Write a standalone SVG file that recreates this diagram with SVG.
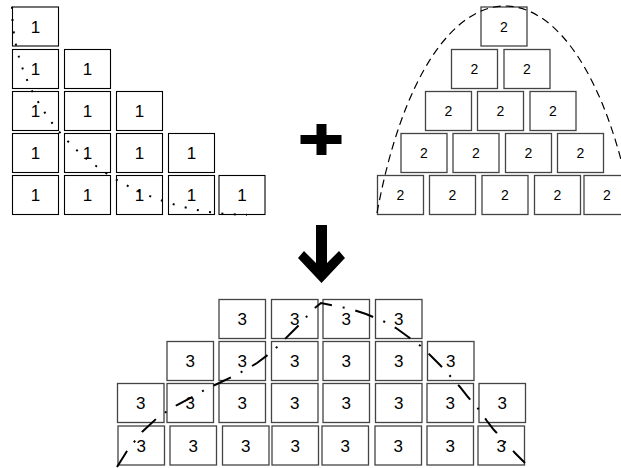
<svg xmlns="http://www.w3.org/2000/svg" width="621" height="468" viewBox="0 0 621 468">
<style>
.bl{fill:#fff;stroke:#000;stroke-width:1.1}
.bg{fill:#fff;stroke:#444;stroke-width:1.3}
.t1{font-family:"Liberation Sans",Arial,sans-serif;font-size:17px;text-anchor:middle;fill:#000}
.t2{font-family:"Liberation Sans",Arial,sans-serif;font-size:14px;text-anchor:middle;fill:#000}
.t3{font-family:"Liberation Sans",Arial,sans-serif;font-size:17px;text-anchor:middle;fill:#000}
</style>
<rect width="621" height="468" fill="#fff"/>
<g id="left">
<g id="L1a"><rect class="bl" x="12.5" y="7" width="46" height="39"/><text class="t1" x="35.5" y="32.5">1</text></g>
<g id="L2a"><rect class="bl" x="12.5" y="49.5" width="46" height="39"/><text class="t1" x="35.5" y="75">1</text></g>
<g id="L2b"><rect class="bl" x="64.5" y="49.5" width="46" height="39"/><text class="t1" x="87.5" y="75">1</text></g>
<g id="L3a"><rect class="bl" x="12.5" y="91.5" width="46" height="39"/><text class="t1" x="35.5" y="117">1</text></g>
<g id="L3b"><rect class="bl" x="64.5" y="91.5" width="46" height="39"/><text class="t1" x="87.5" y="117">1</text></g>
<g id="L3c"><rect class="bl" x="116.5" y="91.5" width="46" height="39"/><text class="t1" x="139.5" y="117">1</text></g>
<g id="L4a"><rect class="bl" x="12.5" y="133.5" width="46" height="39"/><text class="t1" x="35.5" y="159">1</text></g>
<g id="L4b"><rect class="bl" x="64.5" y="133.5" width="46" height="39"/><text class="t1" x="87.5" y="159">1</text></g>
<g id="L4c"><rect class="bl" x="116.5" y="133.5" width="46" height="39"/><text class="t1" x="139.5" y="159">1</text></g>
<g id="L4d"><rect class="bl" x="168.5" y="133.5" width="46" height="39"/><text class="t1" x="191.5" y="159">1</text></g>
<g id="L5a"><rect class="bl" x="12.5" y="175.5" width="46" height="39"/><text class="t1" x="35.5" y="201">1</text></g>
<g id="L5b"><rect class="bl" x="64.5" y="175.5" width="46" height="39"/><text class="t1" x="87.5" y="201">1</text></g>
<g id="L5c"><rect class="bl" x="116.5" y="175.5" width="46" height="39"/><text class="t1" x="139.5" y="201">1</text></g>
<g id="L5d"><rect class="bl" x="168.5" y="175.5" width="46" height="39"/><text class="t1" x="191.5" y="201">1</text></g>
<g id="L5e"><rect class="bl" x="219" y="175.5" width="46" height="39"/><text class="t1" x="242" y="201">1</text></g>
</g>
<g id="right">
<g id="R1a"><rect class="bg" x="481" y="7" width="46" height="39"/><text class="t2" x="504" y="31.5">2</text></g>
<g id="R2a"><rect class="bg" x="451.5" y="49.5" width="46" height="39"/><text class="t2" x="474.5" y="74">2</text></g>
<g id="R2b"><rect class="bg" x="504" y="49.5" width="46" height="39"/><text class="t2" x="527" y="74">2</text></g>
<g id="R3a"><rect class="bg" x="425.5" y="91.5" width="46" height="39"/><text class="t2" x="448.5" y="116">2</text></g>
<g id="R3b"><rect class="bg" x="477.5" y="91.5" width="46" height="39"/><text class="t2" x="500.5" y="116">2</text></g>
<g id="R3c"><rect class="bg" x="530" y="91.5" width="46" height="39"/><text class="t2" x="553" y="116">2</text></g>
<g id="R4a"><rect class="bg" x="401" y="133.5" width="46" height="39"/><text class="t2" x="424" y="158">2</text></g>
<g id="R4b"><rect class="bg" x="453" y="133.5" width="46" height="39"/><text class="t2" x="476" y="158">2</text></g>
<g id="R4c"><rect class="bg" x="505.5" y="133.5" width="46" height="39"/><text class="t2" x="528.5" y="158">2</text></g>
<g id="R4d"><rect class="bg" x="557.5" y="133.5" width="46" height="39"/><text class="t2" x="580.5" y="158">2</text></g>
<g id="R5a"><rect class="bg" x="377.5" y="175.5" width="46" height="39"/><text class="t2" x="400.5" y="200">2</text></g>
<g id="R5b"><rect class="bg" x="429.5" y="175.5" width="46" height="39"/><text class="t2" x="452.5" y="200">2</text></g>
<g id="R5c"><rect class="bg" x="482" y="175.5" width="46" height="39"/><text class="t2" x="505" y="200">2</text></g>
<g id="R5d"><rect class="bg" x="534.5" y="175.5" width="46" height="39"/><text class="t2" x="557.5" y="200">2</text></g>
<g id="R5e"><rect class="bg" x="584" y="175.5" width="46" height="39"/><text class="t2" x="607" y="200">2</text></g>
</g>
<g id="plus"><rect x="300.5" y="135" width="41" height="9" fill="#000"/><rect x="316.5" y="124" width="10" height="31" fill="#000"/></g>
<g id="arrow"><polygon points="316,225 327,225 327,263 339,251 345,258 321.5,283 298,258 304,251 316,263" fill="#000"/></g>
<g id="bottom">
<g id="B1a"><rect class="bg" x="219" y="299.5" width="46.5" height="39"/><text class="t3" x="242.2" y="325">3</text></g>
<g id="B1b"><rect class="bg" x="271.5" y="299.5" width="46.5" height="39"/><text class="t3" x="294.7" y="325">3</text></g>
<g id="B1c"><rect class="bg" x="323" y="299.5" width="46.5" height="39"/><text class="t3" x="346.2" y="325">3</text></g>
<g id="B1d"><rect class="bg" x="375.5" y="299.5" width="46.5" height="39"/><text class="t3" x="398.7" y="325">3</text></g>
<g id="B2a"><rect class="bg" x="167" y="341.5" width="46.5" height="39"/><text class="t3" x="190.2" y="367">3</text></g>
<g id="B2b"><rect class="bg" x="219" y="341.5" width="46.5" height="39"/><text class="t3" x="242.2" y="367">3</text></g>
<g id="B2c"><rect class="bg" x="271.5" y="341.5" width="46.5" height="39"/><text class="t3" x="294.7" y="367">3</text></g>
<g id="B2d"><rect class="bg" x="323" y="341.5" width="46.5" height="39"/><text class="t3" x="346.2" y="367">3</text></g>
<g id="B2e"><rect class="bg" x="375.5" y="341.5" width="46.5" height="39"/><text class="t3" x="398.7" y="367">3</text></g>
<g id="B2f"><rect class="bg" x="427.5" y="341.5" width="46.5" height="39"/><text class="t3" x="450.7" y="367">3</text></g>
<g id="B3a"><rect class="bg" x="117.5" y="383.5" width="46.5" height="39"/><text class="t3" x="140.7" y="409">3</text></g>
<g id="B3b"><rect class="bg" x="167" y="383.5" width="46.5" height="39"/><text class="t3" x="190.2" y="409">3</text></g>
<g id="B3c"><rect class="bg" x="219" y="383.5" width="46.5" height="39"/><text class="t3" x="242.2" y="409">3</text></g>
<g id="B3d"><rect class="bg" x="271.5" y="383.5" width="46.5" height="39"/><text class="t3" x="294.7" y="409">3</text></g>
<g id="B3e"><rect class="bg" x="323" y="383.5" width="46.5" height="39"/><text class="t3" x="346.2" y="409">3</text></g>
<g id="B3f"><rect class="bg" x="375.5" y="383.5" width="46.5" height="39"/><text class="t3" x="398.7" y="409">3</text></g>
<g id="B3g"><rect class="bg" x="427" y="383.5" width="46.5" height="39"/><text class="t3" x="450.2" y="409">3</text></g>
<g id="B3h"><rect class="bg" x="479" y="383.5" width="46.5" height="39"/><text class="t3" x="502.2" y="409">3</text></g>
<g id="B4a"><rect class="bg" x="118" y="426" width="46.5" height="39"/><text class="t3" x="141.2" y="451.5">3</text></g>
<g id="B4b"><rect class="bg" x="170" y="426" width="46.5" height="39"/><text class="t3" x="193.2" y="451.5">3</text></g>
<g id="B4c"><rect class="bg" x="222.5" y="426" width="46.5" height="39"/><text class="t3" x="245.7" y="451.5">3</text></g>
<g id="B4d"><rect class="bg" x="272" y="426" width="46.5" height="39"/><text class="t3" x="295.2" y="451.5">3</text></g>
<g id="B4e"><rect class="bg" x="322" y="426" width="46.5" height="39"/><text class="t3" x="345.2" y="451.5">3</text></g>
<g id="B4f"><rect class="bg" x="375" y="426" width="46.5" height="39"/><text class="t3" x="398.2" y="451.5">3</text></g>
<g id="B4g"><rect class="bg" x="427" y="426" width="46.5" height="39"/><text class="t3" x="450.2" y="451.5">3</text></g>
<g id="B4h"><rect class="bg" x="478" y="426" width="46.5" height="39"/><text class="t3" x="501.2" y="451.5">3</text></g>
</g>
<g id="connectors" fill="none" stroke="#000">
<path d="M12,6.7 A235,208 0 0 0 247,214.7" stroke-width="2" stroke-dasharray="2 10.4"/>
<path d="M377,213 C428,-63 582,-63 633,213" stroke-width="1.2" stroke-dasharray="8 5"/>
<path d="M117,467 L127,451 L142,432 L156,419 L166,412 L177,405 L194,396 L206,389 L217,384 L236,375 L247,369 L257,363 L273,351 L282,342 L291,333 L303,321 L311,311 L321,303 L341,307 L354,310 L366,314 L385,322 L396,328 L407,336 L422,347 L431,356 L440,365 L452,378 L460,387 L468,397 L480,411 L487,421 L494,430 L505,442 L515,453 L525,463" stroke-width="2" stroke-dasharray="19 11 2 11"/>
</g>
</svg>
